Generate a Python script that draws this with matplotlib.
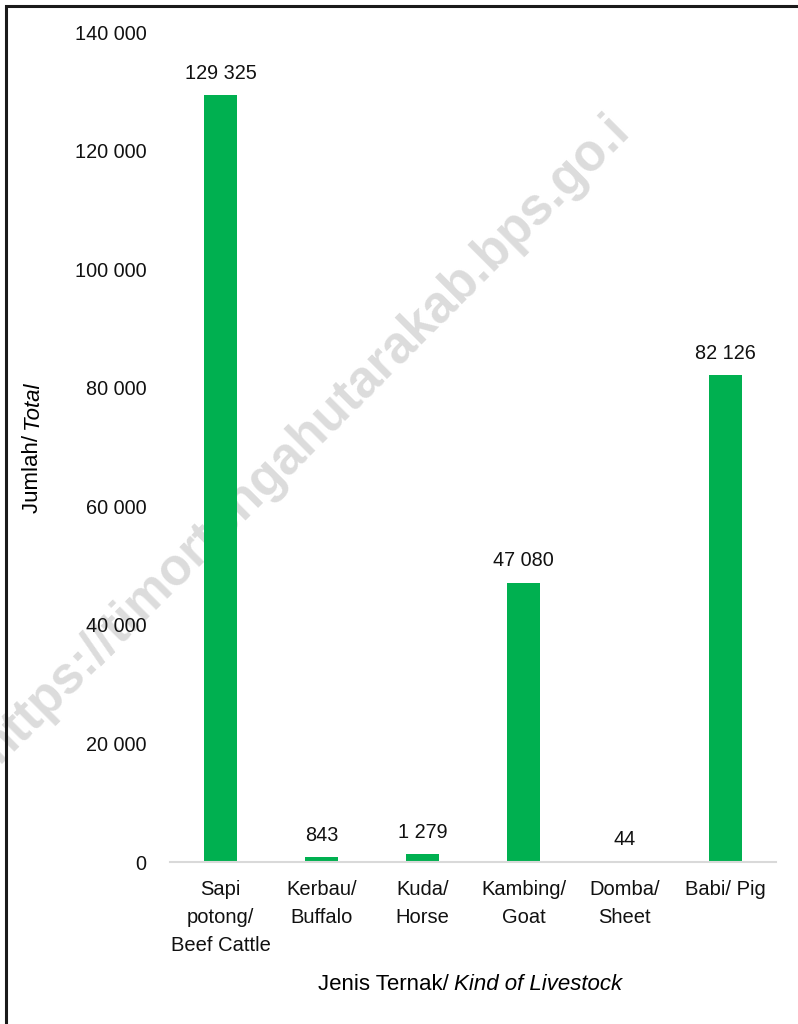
import matplotlib.pyplot as plt
from matplotlib.patches import Rectangle

kategori = ["Sapi\npotong/\nBeef Cattle", "Kerbau/\nBuffalo", "Kuda/\nHorse",
            "Kambing/\nGoat", "Domba/\nSheet", "Babi/ Pig"]
jumlah = [129325, 843, 1279, 47080, 44, 82126]
y_ticks = [0, 20000, 40000, 60000, 80000, 100000, 120000, 140000]

plt.rcParams['font.family'] = ['Liberation Sans', 'DejaVu Sans']
W, H = 798, 1024
fig = plt.figure(figsize=(W / 100, H / 100), dpi=100)
ax = fig.add_axes([170 / W, 1 - 862 / H, 606 / W, 830 / H])
ax.set_zorder(2)

def sp(v):
    return f"{v:,}".replace(",", " ")

x = list(range(len(kategori)))
ax.bar(x, jumlah, width=0.32, color="#00B050", zorder=3)
for xi, v in zip(x, jumlah):
    ax.annotate(sp(v), (xi, v), xytext=(0, 9), textcoords="offset points",
                ha="center", va="bottom", fontsize=14.3, color="#111111")

ax.set_xlim(-0.5, len(kategori) - 0.5)
ax.set_ylim(0, 140000)
ax.set_yticks(y_ticks)
ax.set_yticklabels([sp(t) for t in y_ticks], fontsize=14.3, color="#111111")
ax.set_xticks(x)
ax.set_xticklabels(kategori, fontsize=14.5, color="#111111", linespacing=1.6)
ax.tick_params(axis="y", length=0, pad=17)
ax.tick_params(axis="x", length=0, pad=13)
for s in ["top", "right", "left"]:
    ax.spines[s].set_visible(False)
ax.spines["bottom"].set_color("#D9D9D9")
ax.spines["bottom"].set_linewidth(1.5)
ax.spines["bottom"].set_zorder(4)
ax.patch.set_alpha(0)

# watermark (behind the chart)
fig.text(305 / W, 1 - 438 / H, "https://timortengahutarakab.bps.go.i",
         rotation=45, rotation_mode="anchor", ha="center", va="center",
         fontsize=37, fontweight="bold", color="#DCDCDC", zorder=0)

# axis titles with italic parts
fig.canvas.draw()
r = fig.canvas.get_renderer()
t1 = fig.text(0, 1 - 985 / H, "Jenis Ternak/ ", fontsize=16, ha="left", va="center")
t2 = fig.text(0, 1 - 985 / H, "Kind of Livestock", fontsize=16, style="italic",
              ha="left", va="center")
w1 = t1.get_window_extent(r).width
w2 = t2.get_window_extent(r).width
x0 = 470 - (w1 + w2) / 2
t1.set_x(x0 / W)
t2.set_x((x0 + w1) / W)

u1 = fig.text(32 / W, 0, "Jumlah/ ", fontsize=16, rotation=90, ha="center", va="bottom")
u2 = fig.text(32 / W, 0, "Total", fontsize=16, rotation=90, style="italic",
              ha="center", va="bottom")
h1 = u1.get_window_extent(r).height
h2 = u2.get_window_extent(r).height
y0 = (H - 447) - (h1 + h2) / 2
u1.set_y(y0 / H)
u2.set_y((y0 + h1) / H)

fig.patches.append(Rectangle((5.5 / W, -0.1), 2, (H - 5.5) / H + 0.1,
                             transform=fig.transFigure, fill=False,
                             edgecolor="#1a1a1a", linewidth=2.2))

fig.savefig("out.png", dpi=100)
